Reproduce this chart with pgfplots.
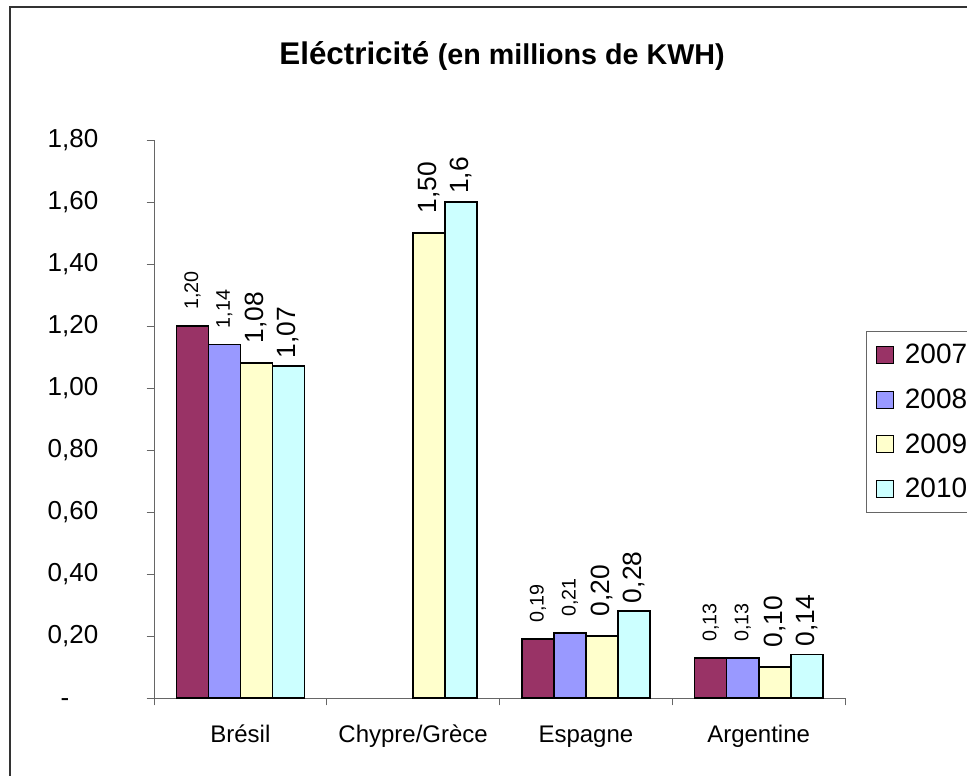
\documentclass[border=0pt]{standalone}
\usepackage{fontspec}
\setmainfont{Liberation Sans}
\usepackage{pgfplots}
\pgfplotsset{compat=1.18}
\definecolor{c07}{HTML}{993366}
\definecolor{c08}{HTML}{9999FF}
\definecolor{c09}{HTML}{FFFFCC}
\definecolor{c10}{HTML}{CCFFFF}
\definecolor{axgray}{HTML}{666666}
\begin{document}
\begin{tikzpicture}
\begin{axis}[
  at={(115.5pt,-523.5pt)}, anchor=south west,
  width=518.25pt, height=418.5pt, scale only axis,
  xmin=-0.5, xmax=3.5, ymin=0, ymax=1.8,
  clip=false,
  ybar=0pt, bar width=24pt,
  axis x line*=bottom, axis y line*=left,
  axis line style={-, draw=axgray, line width=0.75pt},
  tick style={draw=axgray, line width=0.75pt},
  tick align=outside, major tick length=5.6pt,
  xtick={-0.5,0.5,1.5,2.5,3.5}, xticklabels={},
  extra x ticks={0,1,2,3},
  extra x tick labels={Brésil,Chypre/Grèce,Espagne,Argentine},
  extra x tick style={major tick length=0pt, tick style={draw=none}},
  xticklabel style={font=\fontsize{18}{21}\selectfont, anchor=base, inner sep=0pt, yshift=-33pt},
  ytick={0,0.2,0.4,0.6,0.8,1,1.2,1.4,1.6,1.8},
  yticklabels={{-\phantom{00}},{0,20},{0,40},{0,60},{0,80},{1,00},{1,20},{1,40},{1,60},{1,80}},
  yticklabel style={font=\fontsize{19.5}{23}\selectfont, anchor=east, inner sep=0pt, xshift=-36pt},
  point meta=explicit symbolic,
  nodes near coords,
  every node near coord/.append style={rotate=90, anchor=west, inner ysep=0pt, text=black},
  legend style={at={(1.0304,0.6577)}, anchor=north west, draw=axgray, line width=0.75pt,
    fill=white, font=\fontsize{21}{25}\selectfont, inner xsep=6.75pt, inner ysep=9.5pt,
    row sep=17.4pt, nodes={inner sep=0pt}},
  legend cell align=left,
  legend image code/.code={\draw[#1, draw=black, line width=0.75pt] (0pt,-6.4pt) rectangle (12.75pt,6.4pt); \path (21pt,0pt);},
]
\addplot[fill=c07, draw=black, line width=1.3pt,
  every node near coord/.append style={font=\fontsize{14.8}{17}\selectfont, inner xsep=11.5pt}]
  coordinates {(0,1.20) [1,20] (2,0.19) [0,19] (3,0.13) [0,13]};
\addplot[fill=c08, draw=black, line width=1.3pt,
  every node near coord/.append style={font=\fontsize{14.8}{17}\selectfont, inner xsep=11.5pt}]
  coordinates {(0,1.14) [1,14] (2,0.21) [0,21] (3,0.13) [0,13]};
\addplot[fill=c09, draw=black, line width=1.3pt,
  every node near coord/.append style={font=\fontsize{19.8}{23}\selectfont, inner xsep=14pt}]
  coordinates {(0,1.08) [1,08] (1,1.50) [1,50] (2,0.20) [0,20] (3,0.10) [0,10]};
\addplot[fill=c10, draw=black, line width=1.3pt,
  every node near coord/.append style={font=\fontsize{19.8}{23}\selectfont, inner xsep=5.5pt}]
  coordinates {(0,1.07) [1,07] (1,1.60) [1,6] (2,0.28) [0,28] (3,0.14) [0,14]};
\legend{2007,2008,2009,2010}
\end{axis}
\node[anchor=base, font=\bfseries\fontsize{23.5}{27}\selectfont] at (376.5pt,-48pt)
  {Eléctricité {\fontsize{21.5}{25}\selectfont (en millions de KWH)}};
\draw[black!80, line width=1.2pt] (7.5pt,-5.25pt) rectangle (740pt,-600pt);
\pgfresetboundingbox
\path[use as bounding box] (0pt,0pt) rectangle (725.25pt,-581.25pt);
\end{tikzpicture}
\end{document}
